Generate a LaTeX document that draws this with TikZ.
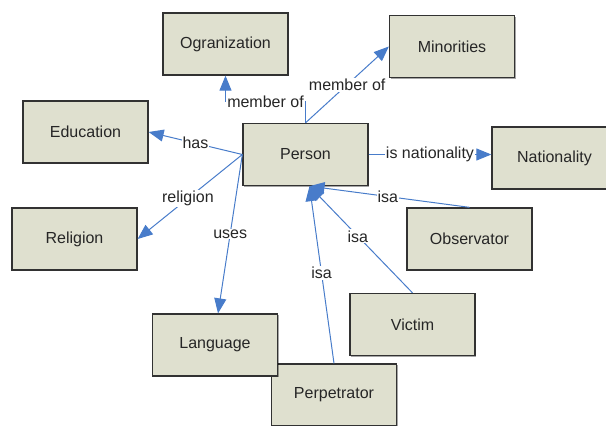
\documentclass[tikz,border=0pt]{standalone}
\usepackage{fontspec}
\setmainfont{Liberation Sans}
\usetikzlibrary{arrows.meta,shadows}
\definecolor{boxfill}{RGB}{223,224,207}
\definecolor{boxline}{RGB}{50,50,50}
\definecolor{linkblue}{RGB}{72,124,202}
\definecolor{txt}{RGB}{38,38,38}
\begin{document}
\begin{tikzpicture}[x=1pt,y=-1pt,
  entity/.style={draw=boxline, line width=1.3pt, fill=boxfill,
    minimum width=125pt, minimum height=62pt, inner sep=0pt, text=txt,
    font=\fontsize{16}{19}\selectfont,
    drop shadow={shadow xshift=1.2pt, shadow yshift=-1.2pt, opacity=0.35, fill=black}},
  link/.style={draw=linkblue, line width=1pt, -{Triangle[length=15pt,width=12pt]}},
  lbl/.style={fill=white, inner sep=1pt, text=txt, font=\fontsize{16}{19}\selectfont}]
\useasboundingbox (0,0) rectangle (606,426);
\clip (0,0) rectangle (606,426);

% concept boxes
\node[entity] (org)    at (225.5,44)   {Ogranization};
\node[entity] (minor)  at (452,46.5)   {Minorities};
\node[entity] (person) at (305.5,154.5){Person};
\node[entity] (edu)    at (85.5,132)   {Education};
\node[entity] (rel)    at (74.5,239)   {Religion};
\node[entity] (nat)    at (554.5,158)  {Nationality};
\node[entity] (obs)    at (469.5,239)  {Observator};
\node[entity] (vic)    at (412.5,324.5){Victim};
\node[entity] (perp)   at (334,395)    {Perpetrator};
\node[entity] (lang)   at (215,345)    {Language};

% relations
\draw[link] (person.north) -- ++(0,-21) -| (org.south)
  node[lbl, pos=0.25] {member of};
\draw[link] (person.north) -- (minor.west) node[lbl, pos=0.5] {member of};
\draw[link] (person.west) -- (edu.east) node[lbl, pos=0.5] {has};
\draw[link] (person.west) -- (rel.east) node[lbl, pos=0.52] {religion};
\draw[link] (person.west) -- ([xshift=3pt]lang.north) node[lbl, pos=0.5] {uses};
\draw[link] (person.east) -- (nat.west |- person.east) node[lbl, pos=0.5] {is nationality};

% isa links into Person
\draw[link] (obs.north)  -- ([xshift=4pt]person.south) node[lbl, pos=0.51] {isa};
\draw[link] (vic.north)  -- ([xshift=4pt]person.south) node[lbl, pos=0.53] {isa};
\draw[link] (perp.north) -- ([xshift=4pt]person.south) node[lbl, pos=0.51] {isa};
\end{tikzpicture}
\end{document}
